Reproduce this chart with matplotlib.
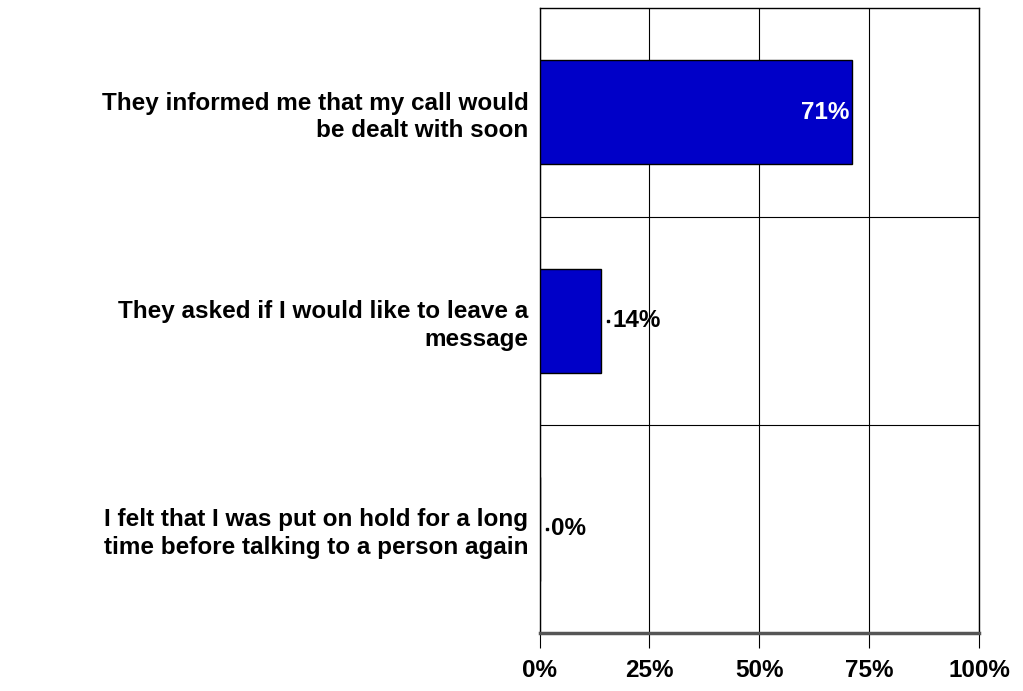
import matplotlib.pyplot as plt
from matplotlib.ticker import FixedLocator

categories = [
    'They informed me that my call would\nbe dealt with soon',
    'They asked if I would like to leave a\nmessage',
    'I felt that I was put on hold for a long\ntime before talking to a person again',
]
values = [71, 14, 0]
ticks = [0, 25, 50, 75, 100]

plt.rcParams['font.family'] = ['Liberation Sans', 'DejaVu Sans']

fig = plt.figure(figsize=(10.23, 6.91), dpi=100)
ax = fig.add_axes([0.5274, 0.0839, 0.4296, 0.9041])

pos = list(range(len(categories)))
ax.barh(pos, values, height=0.5, color='#0000C8', edgecolor='black', linewidth=1, zorder=3)
ax.set_ylim(len(categories) - 0.5, -0.5)
ax.set_xlim(0, 100)

# category separators and value gridlines
ax.yaxis.set_minor_locator(FixedLocator([0.5, 1.5]))
ax.grid(axis='y', which='minor', color='black', linewidth=0.8, zorder=1)
ax.set_xticks(ticks)
ax.grid(axis='x', which='major', color='black', linewidth=0.8, zorder=1)

ax.set_yticks(pos)
ax.set_yticklabels(categories, fontsize=17.5, fontweight='bold', linespacing=1.25)
ax.tick_params(axis='y', which='both', length=0, pad=8)
ax.set_xticklabels([f'{t}%' for t in ticks], fontsize=17.5, fontweight='bold')
ax.tick_params(axis='x', length=11, width=0.8, pad=8)

for s in ax.spines.values():
    s.set_color('black')
    s.set_linewidth(1)
ax.spines['bottom'].set_color('#555555')
ax.spines['bottom'].set_linewidth(2.5)

for i, v in enumerate(values):
    if v > 50:
        ax.text(v - 0.5, i, f'{v}%', color='white', fontsize=17.5, fontweight='bold',
                ha='right', va='center', zorder=4)
    else:
        ax.plot(v + 1.6, i, marker='s', markersize=2, color='black', zorder=4)
        ax.text(v + 2.7, i, f'{v}%', color='black', fontsize=17.5, fontweight='bold',
                ha='left', va='center', zorder=4)

fig.savefig('out.png', dpi=100)
